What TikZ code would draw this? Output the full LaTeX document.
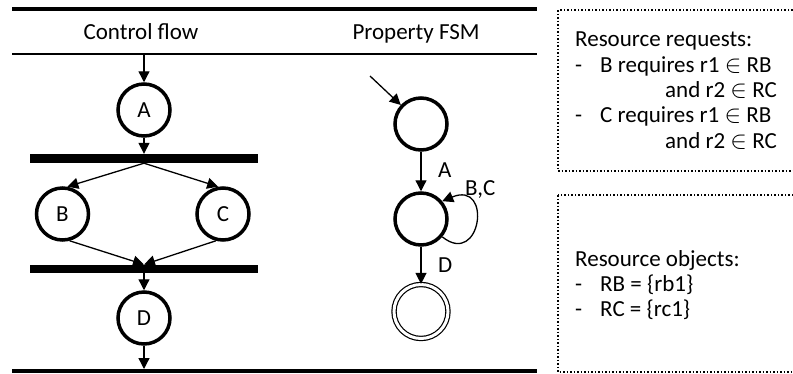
\documentclass[tikz,border=0pt]{standalone}
\usepackage{fontspec}
\setmainfont{Carlito}
\usetikzlibrary{arrows.meta}
\begin{document}
\begin{tikzpicture}[x=1pt,y=-1pt,
  every node/.style={font=\fontsize{23}{25}\selectfont},
  st/.style={circle, draw, line width=3.5pt, minimum size=52pt, inner sep=0pt},
  fin/.style={circle, draw, double, line width=1.2pt, double distance=3pt, minimum size=54pt, inner sep=0pt},
  arr/.style={line width=1.3pt, -{Triangle[length=11pt,width=11pt]}},
  bar/.style={fill=black, draw=none, rectangle, inner sep=0pt, minimum width=228pt},
  txt/.style={anchor=base west, inner sep=0pt, text height=15pt, text depth=4pt},
  box/.style={dotted, line width=1.5pt}]
\clip (0,0) rectangle (793,373);
% rules
\draw[line width=4pt] (12,9) -- (537,9);
\draw[line width=2pt] (12,53.5) -- (537,53.5);
\draw[line width=4pt] (12,370.5) -- (537,370.5);
% titles
\node[anchor=base] (t1) at (141,39) {Control flow};
\node[anchor=base] (t2) at (416,39) {Property FSM};
% control flow
\coordinate (r1a) at (144,54.5);
\coordinate (r2a) at (144,369);
\node[st] (A) at (144,110) {A};
\node[bar, minimum height=9pt] (j1) at (144,158.5) {};
\node[st] (B) at (62.5,214) {B};
\node[st] (C) at (223,214) {C};
\node[bar, minimum height=8.5pt] (j2) at (144,269) {};
\node[st] (D) at (144,318) {D};
\draw[arr] (r1a) -- (A);
\draw[arr] (A) -- (j1);
\draw[arr] (j1.south) -- (B.80);
\draw[arr] (j1.south) -- (C.100);
\draw[arr] (B.-75) -- (j2.north);
\draw[arr] (C.-105) -- (j2.north);
\draw[arr] (j2) -- (D);
\draw[arr] (D) -- (r2a);
% FSM
\coordinate (init) at (370,76);
\node[st] (s1) at (421,124) {};
\node[st] (s2) at (421,219) {};
\node[fin] (s3) at (421,311.5) {};
\draw[arr] (init) -- (s1);
\draw[arr] (s1) -- (s2);
\draw[arr] (s2) -- (s3);
\draw[arr] (s2.-40) .. controls (481,268) and (493,180) .. (s2.40);
\node[txt] (la) at (438,177) {A};
\node[txt] (lbc) at (465,195) {B,C};
\node[txt] (ld) at (438,272) {D};
% boxes
\draw[box] (558,10) rectangle (810,171);
\draw[box] (558,195) rectangle (810,372);
\node[txt] (q0) at (575,46.7) {Resource requests:};
\node[txt] (q1d) at (575,72) {-};
\node[txt] (q1) at (600,72) {B requires r1 $\in$ RB};
\node[txt] (q2) at (665,97.3) {and r2 $\in$ RC};
\node[txt] (q3d) at (575,122.6) {-};
\node[txt] (q3) at (600,122.6) {C requires r1 $\in$ RB};
\node[txt] (q4) at (665,148) {and r2 $\in$ RC};
\node[txt] (o0) at (575,266) {Resource objects:};
\node[txt] (o1d) at (575,291.7) {-};
\node[txt] (o1) at (600,291.7) {RB = \{rb1\}};
\node[txt] (o2d) at (575,316.7) {-};
\node[txt] (o2) at (600,316.7) {RC = \{rc1\}};
\end{tikzpicture}
\end{document}
